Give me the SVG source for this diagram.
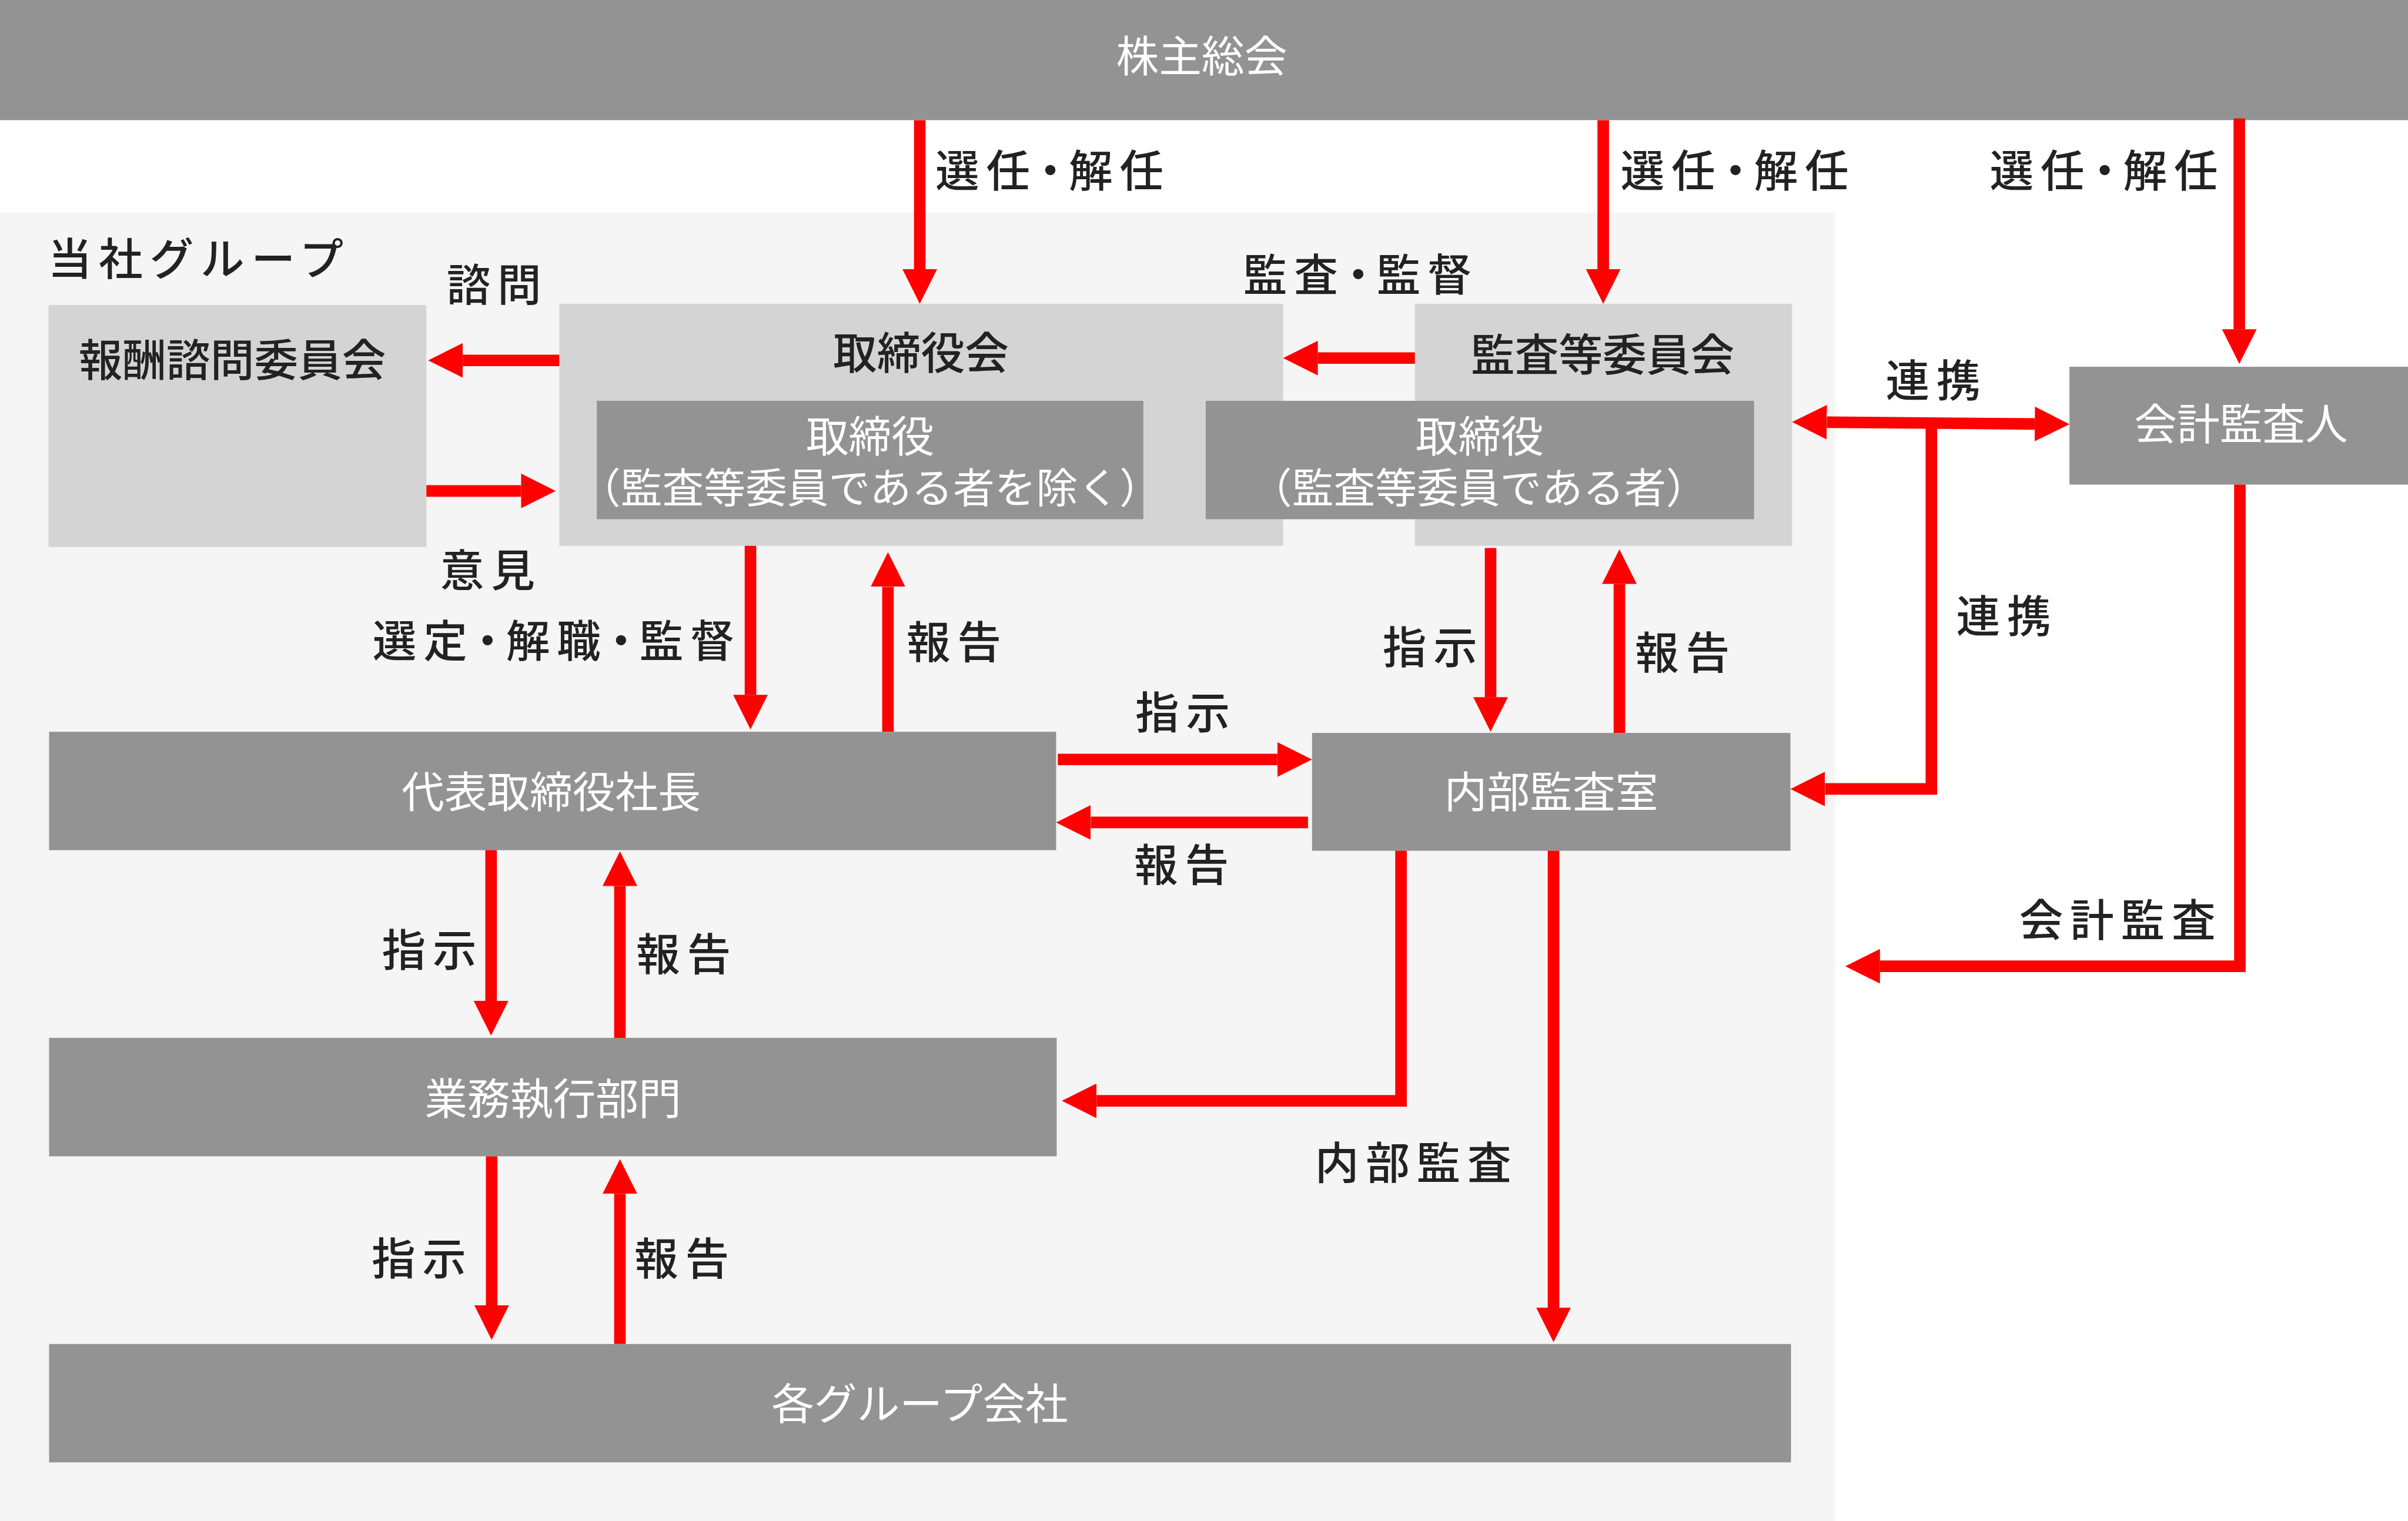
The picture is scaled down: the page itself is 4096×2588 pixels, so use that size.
<svg xmlns="http://www.w3.org/2000/svg" width="4096" height="2588" viewBox="0 0 4096 2588">
<defs>
<style>
.dk{fill:#939393}
.lt{fill:#d4d4d4}
.wt{fill:#ffffff;font-family:"Noto Sans CJK JP","Noto Sans CJK SC",sans-serif;font-size:74px;font-weight:400;text-anchor:middle}
.bx{fill:#222222;font-family:"Noto Sans CJK JP","Noto Sans CJK SC",sans-serif;font-size:76px;font-weight:500;text-anchor:middle}
.lb{fill:#222222;font-family:"Noto Sans CJK JP","Noto Sans CJK SC",sans-serif;font-size:76px;font-weight:500;letter-spacing:12px}
.ar{fill:none;stroke:#ff0000;stroke-width:20;stroke-linecap:butt;stroke-linejoin:miter;marker-end:url(#ah)}
</style>
<marker id="ah" markerUnits="userSpaceOnUse" markerWidth="60" markerHeight="60" viewBox="0 0 60 60" refX="0" refY="30" orient="auto-start-reverse">
<path d="M0,0 L60,30 L0,60 z" fill="#ff0000"/>
</marker>
</defs>
<rect x="0" y="0" width="4096" height="2588" fill="#ffffff"/>
<g transform="scale(0.98273)">
<rect id="group-bg" x="0" y="368" width="3177" height="2266" fill="#f5f5f5"/>
<text class="lb" x="83" y="476">当社グループ</text>

<g id="n-shareholders"><rect class="dk" x="0" y="0" width="4168" height="208"/><text class="wt" x="2080" y="124">株主総会</text></g>
<g id="n-compensation"><rect class="lt" x="84" y="528" width="654" height="419"/><text class="bx" x="402" y="651">報酬諮問委員会</text></g>
<g id="n-board"><rect class="lt" x="968" y="526" width="1253" height="419"/><text class="bx" x="1594" y="639">取締役会</text></g>
<g id="n-auditcommittee"><rect class="lt" x="2449" y="526" width="653" height="419"/><text class="bx" x="2774" y="642">監査等委員会</text></g>
<g id="n-directors1"><rect class="dk" x="1033" y="694" width="946" height="205"/><text class="wt" x="1506" y="783">取締役</text><text class="wt" x="1506" y="871" style="font-size:72px">（監査等委員である者を除く）</text></g>
<g id="n-directors2"><rect class="dk" x="2087" y="694" width="949" height="205"/><text class="wt" x="2561" y="783">取締役</text><text class="wt" x="2560" y="871" style="font-size:72px">（監査等委員である者）</text></g>
<g id="n-auditor"><rect class="dk" x="3582" y="635" width="586" height="204"/><text class="wt" x="3879" y="761">会計監査人</text></g>
<g id="n-president"><rect class="dk" x="85" y="1267" width="1743" height="205"/><text class="wt" x="954" y="1398">代表取締役社長</text></g>
<g id="n-internalaudit"><rect class="dk" x="2271" y="1269" width="828" height="204"/><text class="wt" x="2685" y="1398">内部監査室</text></g>
<g id="n-business"><rect class="dk" x="85" y="1797" width="1744" height="205"/><text class="wt" x="957" y="1929">業務執行部門</text></g>
<g id="n-groupcos"><rect class="dk" x="85" y="2327" width="3015" height="205"/><text class="wt" x="1592" y="2457">各グループ会社</text></g>

<g id="connectors">
<path class="ar" d="M1592,208 V466"/>
<path class="ar" d="M2775,208 V466"/>
<path class="ar" d="M3876,205 V570"/>
<path class="ar" d="M968,624 H801"/>
<path class="ar" d="M738,850 H902"/>
<path class="ar" d="M2449,620 H2281"/>
<path class="ar" d="M1299,945 V1203"/>
<path class="ar" d="M1537,1267 V1016"/>
<path class="ar" d="M1831,1315 H2211"/>
<path class="ar" d="M2264,1424 H1888"/>
<path class="ar" d="M2580,949 V1207"/>
<path class="ar" d="M2803,1269 V1011"/>
<path class="ar" d="M3162,731 L3522,734" style="marker-start:url(#ah)"/>
<path class="ar" d="M3343,733 V1366 H3159"/>
<path class="ar" d="M3877,839 V1673 H3254"/>
<path class="ar" d="M850,1472 V1733"/>
<path class="ar" d="M1073,1797 V1534"/>
<path class="ar" d="M851,2002 V2260"/>
<path class="ar" d="M1073,2327 V2067"/>
<path class="ar" d="M2425,1473 V1906 H1898"/>
<path class="ar" d="M2689,1473 V2264"/>
</g>

<g id="edge-labels">
<text class="lb" x="1619" y="324">選任<tspan dx="-15">・</tspan><tspan dx="-18">解任</tspan></text>
<text class="lb" x="2805" y="324">選任<tspan dx="-15">・</tspan><tspan dx="-18">解任</tspan></text>
<text class="lb" x="3444" y="324">選任<tspan dx="-15">・</tspan><tspan dx="-18">解任</tspan></text>
<text class="lb" x="773" y="521">諮問</text>
<text class="lb" x="2152" y="504">監査<tspan dx="-15">・</tspan><tspan dx="-18">監督</tspan></text>
<text class="lb" x="3264" y="687">連携</text>
<text class="lb" x="762" y="1016">意見</text>
<text class="lb" x="645" y="1138">選定<tspan dx="-15">・</tspan><tspan dx="-18">解職</tspan><tspan dx="-15">・</tspan><tspan dx="-18">監督</tspan></text>
<text class="lb" x="1569" y="1140">報告</text>
<text class="lb" x="2393" y="1149">指示</text>
<text class="lb" x="2830" y="1158">報告</text>
<text class="lb" x="3386" y="1095">連携</text>
<text class="lb" x="1965" y="1262">指示</text>
<text class="lb" x="1963" y="1525">報告</text>
<text class="lb" x="661" y="1673">指示</text>
<text class="lb" x="1101" y="1680">報告</text>
<text class="lb" x="3495" y="1621">会計監査</text>
<text class="lb" x="2276" y="2041">内部監査</text>
<text class="lb" x="643" y="2207">指示</text>
<text class="lb" x="1098" y="2207">報告</text>
</g>
</g>
</svg>
